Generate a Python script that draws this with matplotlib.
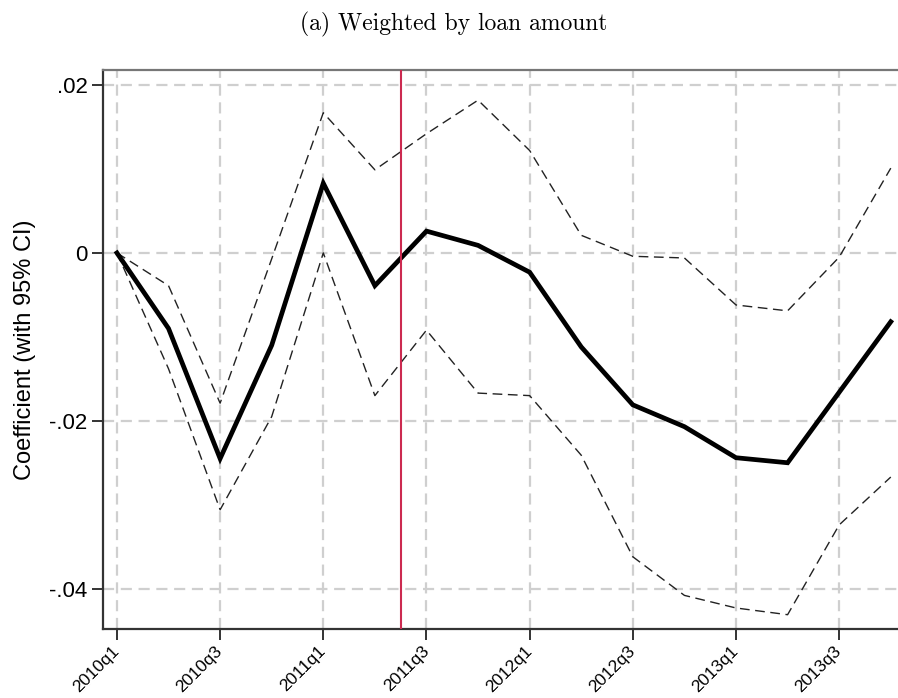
import matplotlib.pyplot as plt

# Data
quarters = ['2010q1', '2010q2', '2010q3', '2010q4', '2011q1', '2011q2', '2011q3', '2011q4',
            '2012q1', '2012q2', '2012q3', '2012q4', '2013q1', '2013q2', '2013q3', '2013q4']
coef = [0.0, -0.0090, -0.0245, -0.0110, 0.0083, -0.0039, 0.0026, 0.0009,
        -0.0023, -0.0112, -0.0181, -0.0207, -0.0244, -0.0250, -0.0166, -0.0082]
ci_upper = [0.0, -0.0039, -0.0179, -0.0007, 0.0167, 0.0099, 0.0142, 0.0182,
            0.0122, 0.0021, -0.0004, -0.0006, -0.0062, -0.0069, -0.0005, 0.0101]
ci_lower = [0.0, -0.0138, -0.0306, -0.0195, 0.0, -0.0170, -0.0092, -0.0167,
            -0.0170, -0.0241, -0.0362, -0.0408, -0.0423, -0.0431, -0.0324, -0.0267]
event_pos = 5.5
y_ticks = [-0.04, -0.02, 0.0, 0.02]
y_tick_labels = ['-.04', '-.02', '0', '.02']

x = list(range(len(quarters)))

fig = plt.figure(figsize=(8.98, 6.98), dpi=100)
ax = fig.add_axes([0.1147, 0.0989, 0.8853, 0.8009])

# grid Stata-style
grid_kw = dict(color='#cfcfcf', linewidth=1.6, dashes=(5, 3), zorder=0)
for xv in x[::2]:
    ax.axvline(xv, **grid_kw)
for yv in y_ticks:
    ax.axhline(yv, **grid_kw)

ax.plot(x, ci_upper, color='#222222', linewidth=1.0, dashes=(7, 4), zorder=2)
ax.plot(x, ci_lower, color='#222222', linewidth=1.0, dashes=(7, 4), zorder=2)
ax.plot(x, coef, color='black', linewidth=3.4, solid_joinstyle='miter', zorder=3)
ax.axvline(event_pos, color='#cc2a50', linewidth=1.5, zorder=4)

ax.set_xlim(-0.27, 15.14)
ax.set_ylim(-0.0448, 0.0218)

ax.set_xticks(x[::2])
ax.set_xticklabels(quarters[::2], rotation=45, ha='right', va='center',
                   rotation_mode='anchor', fontsize=12.5, family='Liberation Sans')
ax.set_yticks(y_ticks)
ax.set_yticklabels(y_tick_labels, fontsize=16, family='Liberation Sans')
ax.tick_params(axis='both', direction='out', length=8, width=1.4, color='#333333', pad=3)
ax.tick_params(axis='x', pad=6)

ax.set_ylabel('Coefficient (with 95% CI)', fontsize=17, family='Liberation Sans', labelpad=10)

for side in ['left', 'bottom']:
    ax.spines[side].set_color('#333333')
    ax.spines[side].set_linewidth(1.6)
ax.spines['top'].set_color('#777777')
ax.spines['top'].set_linewidth(1.6)
ax.spines['right'].set_visible(False)

fig.text(0.505, 0.965, '(a) Weighted by loan amount', ha='center', va='center',
         fontsize=17, family='cmr10')

fig.savefig('out.png', dpi=100)
plt.close(fig)
